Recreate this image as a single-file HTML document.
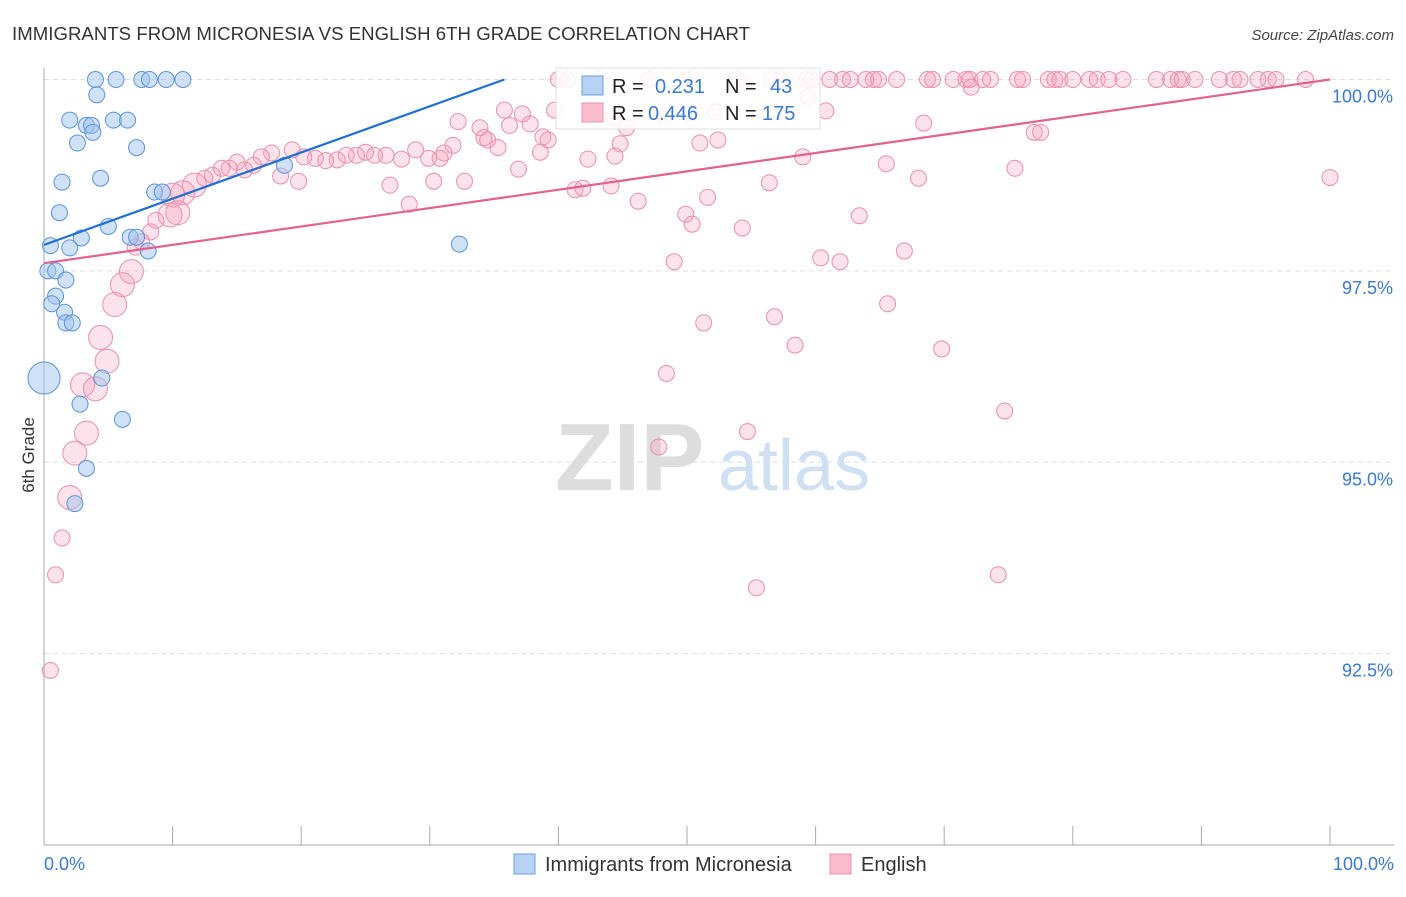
<!DOCTYPE html>
<html><head><meta charset="utf-8"><style>
body{margin:0;background:#fff;font-family:"Liberation Sans",sans-serif;}
svg text{font-family:"Liberation Sans",sans-serif;}
</style></head><body>
<svg id="chart" width="1406" height="892" xmlns="http://www.w3.org/2000/svg">
<text x="12" y="40" font-size="18.6" fill="#333" textLength="738">IMMIGRANTS FROM MICRONESIA VS ENGLISH 6TH GRADE CORRELATION CHART</text>
<text x="1394" y="40" font-size="15" fill="#444" text-anchor="end" font-style="italic">Source: ZipAtlas.com</text>
<g>
<text x="555" y="490" font-size="96" fill="#ddd" font-family="Liberation Serif" font-weight="bold">ZIP</text>
<text x="718" y="490" font-size="72" fill="#cfe0f3">atlas</text>
</g>
<g id="grid"></g><g id="axes"></g><g id="pts"></g><g id="lines"></g>
<text transform="translate(34,455) rotate(-90)" font-size="17" fill="#333" text-anchor="middle">6th Grade</text>
<text x="44" y="870" font-size="18" fill="#3a78d4">0.0%</text>
<text x="1394" y="870" font-size="18" fill="#3a78d4" text-anchor="end">100.0%</text>
<g>
<rect x="556" y="68" width="264" height="61" fill="#fff" fill-opacity="0.85" stroke="#ddd"/>
<rect x="582" y="76" width="21" height="19" fill="#b7d2f5" stroke="#6d9de0"/>
<rect x="582" y="103" width="21" height="19" fill="#f8bccd" stroke="#ec93ad"/>
<text x="612" y="93" font-size="20" fill="#222">R = </text><text x="655" y="93" font-size="20" fill="#3a78d4">0.231</text>
<text x="725" y="93" font-size="20" fill="#222">N = </text><text x="770" y="93" font-size="20" fill="#3a78d4">43</text>
<text x="612" y="120" font-size="20" fill="#222">R = </text><text x="648" y="120" font-size="20" fill="#3a78d4">0.446</text>
<text x="725" y="120" font-size="20" fill="#222">N = </text><text x="762" y="120" font-size="20" fill="#3a78d4">175</text>
</g>
<g>
<rect x="514" y="854" width="21" height="20" fill="#b7d2f5" stroke="#6d9de0"/>
<text x="545" y="871" font-size="20" fill="#333">Immigrants from Micronesia</text>
<rect x="830" y="854" width="21" height="20" fill="#f8bccd" stroke="#ec93ad"/>
<text x="861" y="871" font-size="20" fill="#333">English</text>
</g>
</svg>
<script>
const yTicks=[92.5,95.0,97.5,100.0];
const yTickLabels=["92.5%","95.0%","97.5%","100.0%"];
const xTicks=[0,10,20,30,40,50,60,70,80,90,100];
const blueX=[4.0,5.6,7.6,8.2,9.5,10.8,4.1,2.0,3.3,3.7,3.8,5.4,6.5,2.6,7.2,1.4,4.4,8.6,9.2,1.2,5.0,2.9,6.7,7.2,8.1,0.5,2.0,32.3,18.7,0.3,0.9,1.7,0.9,0.6,1.6,1.7,2.2,0,4.5,2.8,6.1,3.3,2.4];
const blueY=[100,100,100,100,100,100,99.8,99.47,99.4,99.4,99.31,99.47,99.47,99.17,99.11,98.66,98.71,98.53,98.53,98.26,98.08,97.93,97.94,97.94,97.76,97.83,97.8,97.85,98.88,97.5,97.5,97.38,97.17,97.07,96.96,96.82,96.82,96.1,96.1,95.76,95.56,94.92,94.46];
const blueR=[8,8,8,8,8,8,8,8,8,8,8,8,8,8,8,8,8,8,8,8,8,8,8,8,8,8,8,8,8,8,8,8,8,8,8,8,8,16,8,8,8,8,8];
const pinkX=[40.0,40.7,43.2,47.1,50.2,53.9,56.6,57.3,59.3,59.7,61.1,62.1,62.7,63.9,64.5,64.9,66.3,68.7,69.1,70.7,71.7,72.0,73.0,73.6,75.7,76.1,78.1,78.6,79.0,80.0,81.3,81.9,82.8,83.9,86.5,87.6,88.2,88.5,89.5,91.4,92.5,93.0,94.4,95.2,95.8,98.1,
59.4,72.1,60.8,52.2,39.7,35.8,37.2,37.8,32.2,33.9,36.2,44.3,45.3,48.3,50.2,68.4,77.0,77.5,34.2,34.5,38.8,39.2,31.8,44.8,51.0,52.4,35.3,31.1,38.6,42.3,44.4,59.0,28.9,26.6,29.9,27.8,30.8,25.7,25.0,24.3,23.5,22.8,21.9,21.1,20.2,19.3,17.7,16.9,16.3,15.6,15.0,14.4,13.8,13.1,12.5,11.7,10.8,10.0,10.4,9.8,8.7,8.3,7.6,7.1,6.8,6.1,5.5,4.4,4.9,3.0,4.0,3.3,2.4,2.0,1.4,0.9,0.5,
18.4,19.8,26.9,28.4,30.3,32.7,36.9,41.3,41.9,44.1,46.2,49.9,50.4,51.6,54.3,56.4,63.4,65.5,68.0,75.5,100,49.0,60.4,61.9,66.9,65.6,51.3,56.8,58.4,69.8,48.4,74.7,54.7,47.8,55.4,74.2];
const pinkY=[100,100,100,100,100,100,100,100,100,100,100,100,100,100,100,100,100,100,100,100,100,100,100,100,100,100,100,100,100,100,100,100,100,100,100,100,100,100,100,100,100,100,100,100,100,100,
99.78,99.9,99.59,99.58,99.6,99.6,99.55,99.42,99.45,99.37,99.4,99.5,99.37,99.51,99.56,99.43,99.31,99.31,99.24,99.21,99.25,99.21,99.14,99.16,99.17,99.21,99.11,99.04,99.05,98.96,99.0,98.99,99.08,99.01,98.97,98.96,98.97,99.01,99.05,99.01,99.01,98.95,98.94,98.97,98.99,99.08,99.04,98.99,98.88,98.82,98.92,98.84,98.84,98.75,98.71,98.62,98.52,98.49,98.26,98.23,98.16,98.01,97.88,97.81,97.49,97.32,97.06,96.63,96.32,96.01,95.96,95.38,95.12,94.54,94.01,93.53,92.28,
98.74,98.67,98.62,98.37,98.67,98.67,98.83,98.56,98.58,98.61,98.41,98.24,98.11,98.46,98.06,98.65,98.22,98.9,98.71,98.84,98.72,97.62,97.67,97.62,97.76,97.07,96.82,96.9,96.53,96.48,96.16,95.67,95.4,95.2,93.36,93.53];
const pinkBig=[10.0,10.4,9.8,6.8,6.1,5.5,4.4,4.9,3.0,4.0,3.3,2.4,2.0,12.5,11.7,10.8];
const blueTrend=[0,97.84,35.8,100];
const pinkTrend=[0,97.60,100,100.0];
const X0=44,X1=1330,Y0=845,Y1=79.5,YMIN=90,YMAX=100;
const sx=v=>X0+(v/100)*(X1-X0);
const sy=v=>Y0-(v-YMIN)/(YMAX-YMIN)*(Y0-Y1);
const NS="http://www.w3.org/2000/svg";
function mk(parent,tag,attrs){const e=document.createElementNS(NS,tag);for(const k in attrs)e.setAttribute(k,attrs[k]);document.getElementById(parent).appendChild(e);return e;}
yTicks.forEach((t,i)=>{
 const l=mk('grid','line',{x1:X0,x2:1394,y1:sy(t),y2:sy(t),stroke:'#ddd','stroke-dasharray':'5,4'});
 
 
 const tx=mk('grid','text',{x:1393,y:sy(t)+23,'font-size':18,fill:'#3a78d4','text-anchor':'end'});
 tx.textContent=yTickLabels[i];
 
 
});
const ax=mk('axes','line',{x1:X0,x2:X0,y1:68,y2:Y0,stroke:'#aaa'});


const bx=mk('axes','line',{x1:X0,x2:1394,y1:Y0,y2:Y0,stroke:'#aaa'});


xTicks.forEach(t=>{
 const l=mk('axes','line',{x1:sx(t),x2:sx(t),y1:826,y2:Y0,stroke:'#aaa'});
 
 
});
pinkX.forEach((x,i)=>{
 const big=i>=46 && pinkBig.includes(x) && pinkY[i]<98.7;
 const c=mk('pts','circle',{cx:sx(x),cy:sy(pinkY[i]),r:big?12:8,fill:'rgba(244,160,185,0.3)',stroke:'#ea8fab','stroke-width':1});
 
 
});
blueX.forEach((x,i)=>{
 const c=mk('pts','circle',{cx:sx(x),cy:sy(blueY[i]),r:blueR[i],fill:'rgba(160,196,240,0.5)',stroke:'#5b93db','stroke-width':1});
 
 
});
const bl=mk('lines','line',{x1:sx(blueTrend[0]),y1:sy(blueTrend[1]),x2:sx(blueTrend[2]),y2:sy(blueTrend[3]),stroke:'#1f6fd6','stroke-width':2.2});


const pl=mk('lines','line',{x1:sx(pinkTrend[0]),y1:sy(pinkTrend[1]),x2:sx(pinkTrend[2]),y2:sy(pinkTrend[3]),stroke:'#e4608e','stroke-width':2.2});


</script>
</body></html>
